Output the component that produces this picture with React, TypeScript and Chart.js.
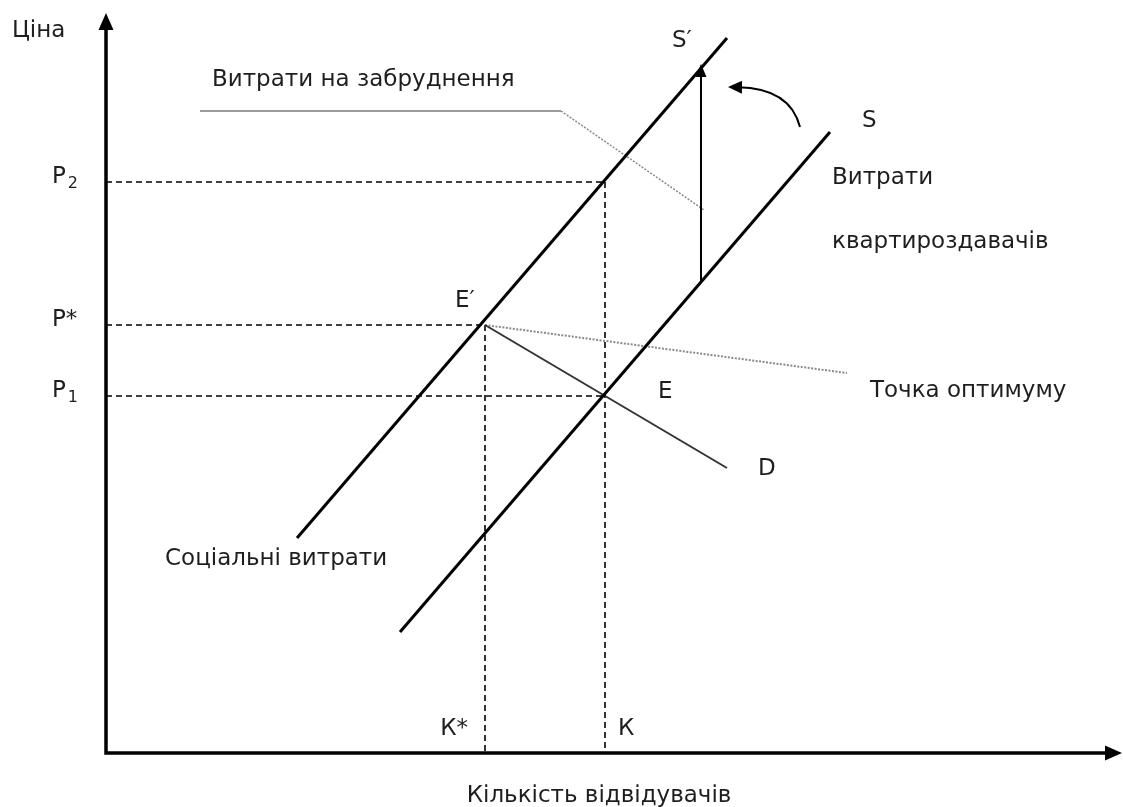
import React, { useEffect, useRef } from "react";
import { Chart, registerables } from "chart.js";

Chart.register(...registerables);

// ---- data (price / quantity units of the diagram) ----
const priceLevels = [57.1, 42.8, 35.7]; // P2, P*, P1
const priceBase = ["P", "P*", "P"];
const priceSub = ["2", "", "1"];
const priceQuantity = [49.9, 37.9, 49.9]; // where each price guide meets its curve

const quantityLevels = [37.9, 49.9]; // K*, K
const quantityLabels = ["К*", "К"];
const quantityPrice = [42.8, 57.1]; // top of each quantity guide

const socialCost = [
  [19.1, 21.5],
  [62.1, 71.5],
]; // S'
const privateCost = [
  [29.4, 12.1],
  [72.4, 62.1],
]; // S
const demand = [
  [37.9, 42.8],
  [62.1, 28.5],
]; // D
const costShift = [
  [59.5, 47.1],
  [59.5, 68.7],
];
const pollutionLeaderSolid = [
  [9.4, 64.2],
  [45.5, 64.2],
];
const pollutionLeaderDotted = [
  [45.5, 64.2],
  [59.8, 54.3],
];
const optimumLeader = [
  [37.9, 42.8],
  [74.1, 38.0],
];
const curvedArrow = [
  [69.4, 62.6],
  [68.4, 66.5],
  [62.2, 66.6],
]; // start, control, tip

const labelTexts = [
  "Витрати на забруднення",
  "S′",
  "S",
  "Витрати",
  "квартироздавачів",
  "Точка оптимуму",
  "E′",
  "E",
  "D",
  "Соціальні витрати",
];
const labelX = [10.6, 56.6, 75.6, 72.6, 72.6, 76.4, 34.9, 55.2, 65.2, 5.9];
const labelY = [66.7, 70.6, 62.6, 56.9, 50.5, 35.6, 44.6, 35.5, 27.8, 18.8];

const yAxisTitle = "Ціна";
const xAxisTitle = "Кількість відвідувачів";

const X_MAX = 101.6;
const Y_MAX = 74;

const pts = (arr: number[][]) => arr.map(([x, y]) => ({ x, y }));

const FONT = "'DejaVu Sans', 'Noto Sans', sans-serif";
const TEXT = "#1e1e1e";

function arrowHead(
  ctx: CanvasRenderingContext2D,
  tx: number,
  ty: number,
  dx: number,
  dy: number,
  len: number,
  half: number
) {
  const n = Math.hypot(dx, dy) || 1;
  const ux = dx / n;
  const uy = dy / n;
  const bx = tx - ux * len;
  const by = ty - uy * len;
  ctx.beginPath();
  ctx.moveTo(tx, ty);
  ctx.lineTo(bx - uy * half, by + ux * half);
  ctx.lineTo(bx + uy * half, by - ux * half);
  ctx.closePath();
  ctx.fill();
}

const overlay = {
  id: "overlay",
  afterDatasetsDraw(chart: any) {
    const { ctx } = chart;
    const xs = chart.scales.x;
    const ys = chart.scales.y;
    const X = (v: number) => xs.getPixelForValue(v);
    const Y = (v: number) => ys.getPixelForValue(v);
    ctx.save();

    // axes
    const x0 = X(0);
    const y0 = Y(0);
    const xEnd = X(X_MAX);
    const yEnd = Y(Y_MAX);
    ctx.strokeStyle = "#000";
    ctx.fillStyle = "#000";
    ctx.lineWidth = 3.5;
    ctx.lineCap = "butt";
    ctx.beginPath();
    ctx.moveTo(x0, y0 + 1.75);
    ctx.lineTo(x0, yEnd + 12);
    ctx.moveTo(x0 - 1.75, y0);
    ctx.lineTo(xEnd - 12, y0);
    ctx.stroke();
    arrowHead(ctx, x0, yEnd, 0, -1, 17, 7.5);
    arrowHead(ctx, xEnd, y0, 1, 0, 17, 7.5);

    // vertical cost-shift arrow head
    const [sx, sy] = costShift[1];
    arrowHead(ctx, X(sx), Y(sy) - 2, 0, -1, 13, 5.5);

    // curved arrow
    const [p0, c, p2] = curvedArrow;
    ctx.lineWidth = 2;
    ctx.strokeStyle = "#000";
    const tipX = X(p2[0]);
    const tipY = Y(p2[1]);
    const dx = tipX - X(c[0]);
    const dy = tipY - Y(c[1]);
    const dn = Math.hypot(dx, dy);
    ctx.beginPath();
    ctx.moveTo(X(p0[0]), Y(p0[1]));
    ctx.quadraticCurveTo(X(c[0]), Y(c[1]), tipX - (dx / dn) * 10, tipY - (dy / dn) * 10);
    ctx.stroke();
    arrowHead(ctx, tipX, tipY, dx, dy, 14, 6.5);

    // text
    ctx.fillStyle = TEXT;
    ctx.textBaseline = "alphabetic";
    ctx.textAlign = "left";
    ctx.font = `23px ${FONT}`;
    labelTexts.forEach((t, i) => {
      ctx.fillText(t, X(labelX[i]), Y(labelY[i]));
    });

    // price labels
    priceLevels.forEach((p, i) => {
      const py = Y(p) + 1;
      ctx.font = `23px ${FONT}`;
      const bx = x0 - 54;
      ctx.fillText(priceBase[i], bx, py);
      if (priceSub[i]) {
        const w = ctx.measureText(priceBase[i]).width;
        ctx.font = `16px ${FONT}`;
        ctx.fillText(priceSub[i], bx + w + 2, py + 5);
      }
    });

    // quantity labels
    ctx.font = `23px ${FONT}`;
    quantityLevels.forEach((q, i) => {
      const qx = X(q);
      if (i === 0) {
        ctx.textAlign = "right";
        ctx.fillText(quantityLabels[i], qx - 17, y0 - 18);
      } else {
        ctx.textAlign = "left";
        ctx.fillText(quantityLabels[i], qx + 13, y0 - 18);
      }
    });

    // axis titles
    ctx.textAlign = "left";
    ctx.fillText(yAxisTitle, x0 - 94, yEnd + 24);
    ctx.textAlign = "center";
    ctx.fillText(xAxisTitle, X(49.3), y0 + 49);

    ctx.restore();
  },
};

export default function App() {
  const ref = useRef<HTMLCanvasElement | null>(null);

  useEffect(() => {
    if (!ref.current) return;

    const guideStyle = {
      borderColor: "#000",
      borderWidth: 1.6,
      borderDash: [6, 4],
    };

    const guides: any[] = [];
    priceLevels.forEach((p, i) => {
      guides.push({
        data: [
          { x: 0, y: p },
          { x: priceQuantity[i], y: p },
        ],
        ...guideStyle,
      });
    });
    quantityLevels.forEach((q, i) => {
      guides.push({
        data: [
          { x: q, y: quantityPrice[i] },
          { x: q, y: 0 },
        ],
        ...guideStyle,
      });
    });

    const curves: any[] = [
      { data: pts(socialCost), borderColor: "#000", borderWidth: 3 },
      { data: pts(privateCost), borderColor: "#000", borderWidth: 3 },
      { data: pts(demand), borderColor: "#333", borderWidth: 2 },
      { data: pts(costShift), borderColor: "#000", borderWidth: 2 },
      { data: pts(pollutionLeaderSolid), borderColor: "#7a7a7a", borderWidth: 1.5 },
      {
        data: pts(pollutionLeaderDotted),
        borderColor: "#8a8a8a",
        borderWidth: 1.5,
        borderDash: [2, 1.5],
      },
      {
        data: pts(optimumLeader),
        borderColor: "#8a8a8a",
        borderWidth: 2,
        borderDash: [2, 1.5],
      },
    ];

    const datasets = [...curves, ...guides].map((d) => ({
      ...d,
      showLine: true,
      pointRadius: 0,
      pointHoverRadius: 0,
      fill: false,
      tension: 0,
      clip: false,
    }));

    const chart = new Chart(ref.current, {
      type: "scatter",
      data: { datasets },
      options: {
        animation: false,
        responsive: false,
        devicePixelRatio: 1,
        events: [],
        layout: { padding: { left: 106, top: 13, right: 1, bottom: 54 } },
        scales: {
          x: { type: "linear", min: 0, max: X_MAX, display: false },
          y: { type: "linear", min: 0, max: Y_MAX, display: false },
        },
        plugins: {
          legend: { display: false },
          tooltip: { enabled: false },
        },
      },
      plugins: [overlay],
    });

    return () => chart.destroy();
  }, []);

  return (
    <div style={{ position: "absolute", left: 0, top: 0, width: 1123, height: 807, background: "#fff" }}>
      <canvas ref={ref} width={1123} height={807} style={{ display: "block" }} />
    </div>
  );
}
